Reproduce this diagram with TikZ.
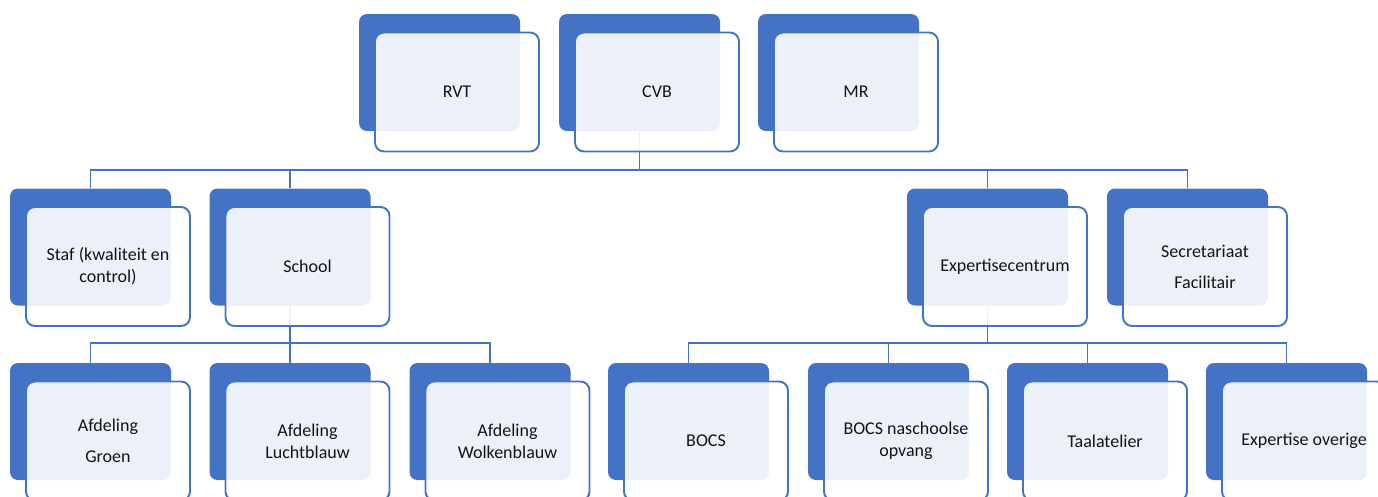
\documentclass[tikz,border=0pt]{standalone}
\usepackage{fontspec}
\setmainfont{Carlito}
\definecolor{oblue}{HTML}{4472C4}
\newcommand\orgback[3]{\node[backbox] (#1b) at (#2,#3) {};}
\newcommand\orgfront[4]{\node[frontbox] (#1) at (#2+17.5,#3+19.5) {#4};}
\begin{document}
\begin{tikzpicture}[x=1pt,y=-1pt,
 backbox/.style={rectangle, rounded corners=8pt, fill=oblue, minimum width=161pt, minimum height=117pt, inner sep=0pt},
 frontbox/.style={rectangle, rounded corners=9pt, draw=oblue, line width=1.9pt, fill=white, fill opacity=0.9, text opacity=1, minimum width=164pt, minimum height=119pt, inner sep=0pt, align=center, font=\fontsize{18}{22}\selectfont, text=black!92},
 conn/.style={draw=oblue, line width=1.9pt}]
\useasboundingbox (0,0) rectangle (1378,496);
\clip (0,0) rectangle (1378,496);
% back boxes
\orgback{rvt}{439.5}{72.5}
\orgback{cvb}{639.5}{72.5}
\orgback{mr}{838.5}{72.5}
\orgback{staf}{90.5}{247}
\orgback{school}{290}{247}
\orgback{expc}{987.5}{247}
\orgback{secr}{1187.5}{247}
\orgback{groen}{90.5}{421.5}
\orgback{lucht}{290}{421.5}
\orgback{wolk}{490}{421.5}
\orgback{bocs}{688.5}{421.5}
\orgback{bocsn}{888.5}{421.5}
\orgback{taal}{1087.5}{421.5}
\orgback{expo}{1286.5}{421.5}
% connectors
\coordinate (bus1) at (0,170);
\coordinate (bus2) at (0,343);
\foreach \c in {staf,school,expc,secr}
  \draw[conn] (cvbb.south) -- (cvbb.south |- bus1) -| (\c b.north);
\foreach \c in {groen,lucht,wolk}
  \draw[conn] (schoolb.south) -- (schoolb.south |- bus2) -| (\c b.north);
\foreach \c in {bocs,bocsn,taal,expo}
  \draw[conn] (expcb.south) -- (expcb.south |- bus2) -| (\c b.north);
% front boxes
\orgfront{rvt}{439.5}{72.5}{RVT}
\orgfront{cvb}{639.5}{72.5}{CVB}
\orgfront{mr}{838.5}{72.5}{MR}
\orgfront{staf}{90.5}{247}{Staf (kwaliteit en\\control)}
\orgfront{school}{290}{247}{School}
\orgfront{expc}{987.5}{247}{Expertisecentrum}
\orgfront{secr}{1187.5}{247}{Secretariaat\\[9pt]Facilitair}
\orgfront{groen}{90.5}{421.5}{Afdeling\\[9pt]Groen}
\orgfront{lucht}{290}{421.5}{Afdeling\\Luchtblauw}
\orgfront{wolk}{490}{421.5}{Afdeling\\Wolkenblauw}
\orgfront{bocs}{688.5}{421.5}{BOCS}
\orgfront{bocsn}{888.5}{421.5}{BOCS naschoolse\\opvang}
\orgfront{taal}{1087.5}{421.5}{Taalatelier}
\orgfront{expo}{1286.5}{421.5}{Expertise overige}
\end{tikzpicture}
\end{document}
